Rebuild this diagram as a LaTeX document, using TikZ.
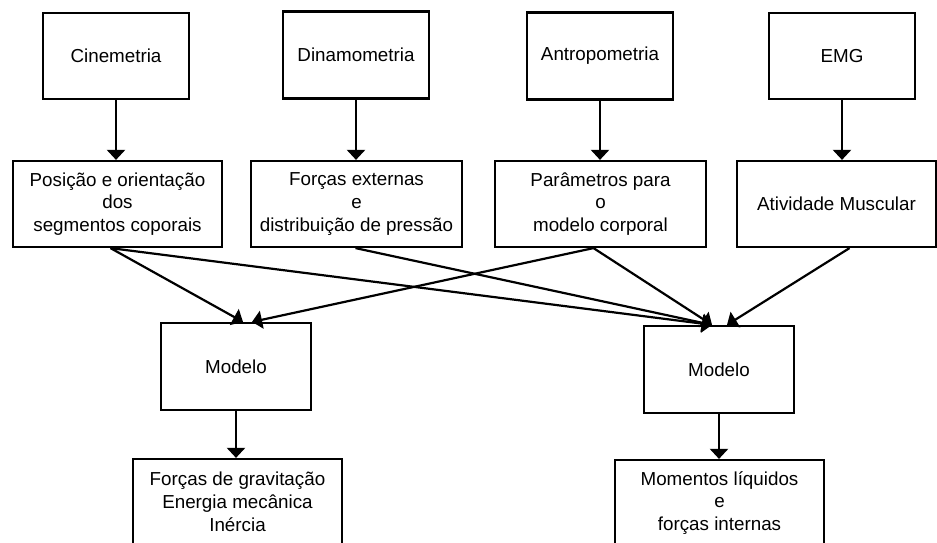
\documentclass[tikz,border=0pt]{standalone}
\usepackage{fontspec}
\setmainfont{Liberation Sans}
\usetikzlibrary{arrows.meta}

\begin{document}
\begin{tikzpicture}[x=1pt,y=1pt,yscale=-1,xscale=1,
		box/.style={draw, line width=2.2pt, align=center, inner sep=0pt,
			font=\fontsize{18.8}{22.8}\selectfont},
		arr/.style={line width=2.2pt, -{Triangle[width=18pt,length=10pt]}}]
		% Set diagram size to 937 x 543
		\useasboundingbox (0,0) rectangle (937,543);

		% Top row: the measuring methods
		\node[box, minimum width=146, minimum height=86] (cin) at (116,56) {Cinemetria};
		\node[box, minimum width=146, minimum height=87] (din) at (356,55) {Dinamometria};
		\node[box, minimum width=146, minimum height=87] (ant) at (600,56) {Antropometria};
		\node[box, minimum width=146, minimum height=86] (emg) at (842,56) {EMG};

		% Second row: what each method gives
		\node[box, minimum width=209, minimum height=86] (pos) at (117.5,204) {Posição e orientação\\dos\\segmentos coporais};
		\node[box, minimum width=211, minimum height=86] (fex) at (356.5,204) {Forças externas\\e\\distribuição de pressão};
		\node[box, minimum width=211, minimum height=86] (par) at (600.5,204) {Parâmetros para\\o\\modelo corporal};
		\node[box, minimum width=199, minimum height=86] (atv) at (836.5,204) {Atividade Muscular};

		% Third row: the two models
		\node[box, minimum width=150, minimum height=87] (modA) at (236,366.5) {Modelo};
		\node[box, minimum width=150, minimum height=87] (modB) at (719,369.5) {Modelo};

		% Bottom row: results (cut at the lower edge)
		\node[box, minimum width=209, minimum height=86] (resA) at (237.5,502) {Forças de gravitação\\Energia mecânica\\Inércia};
		\node[box, minimum width=209, minimum height=86] (resB) at (719.5,503) {Momentos líquidos\\e\\forças internas};

		% Vertical arrows from the methods to their data
		\draw[arr] (cin.south) -- (cin.south |- pos.north);
		\draw[arr] (din.south) -- (din.south |- fex.north);
		\draw[arr] (ant.south) -- (ant.south |- par.north);
		\draw[arr] (emg.south) -- (emg.south |- atv.north);

		% Crossing arrows into the left model
		\draw[arr] ([xshift=-7pt]pos.south) -- ([xshift=7pt]modA.north);
		\draw[arr] ([xshift=-7pt]par.south) -- ([xshift=16pt]modA.north);

		% Crossing arrows into the right model
		\draw[arr] ([xshift=-7pt]pos.south) -- ([xshift=-7pt]modB.north);
		\draw[arr] ([xshift=-1pt]fex.south) -- ([xshift=-7pt]modB.north);
		\draw[arr] ([xshift=-7pt]par.south) -- ([xshift=-7pt]modB.north);
		\draw[arr] ([xshift=13pt]atv.south) -- ([xshift=8pt]modB.north);

		% Arrows from the models to the results
		\draw[arr] (modA.south) -- (modA.south |- resA.north);
		\draw[arr] (modB.south) -- (modB.south |- resB.north);
	\end{tikzpicture}
\end{document}
